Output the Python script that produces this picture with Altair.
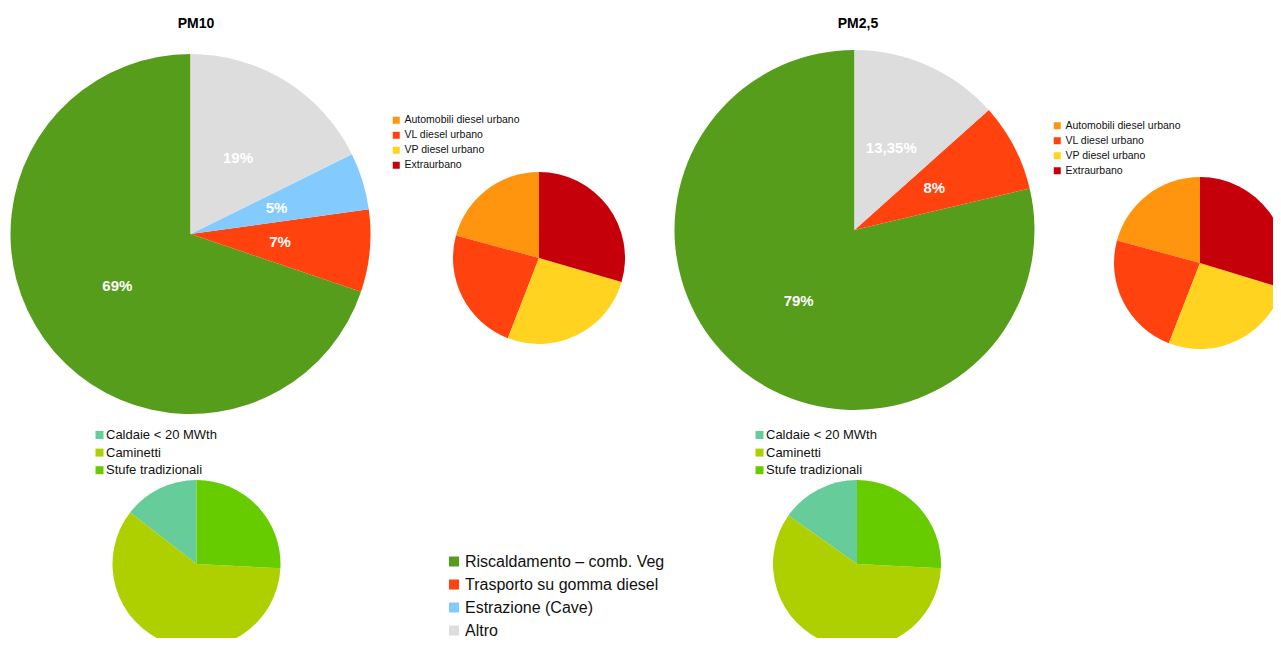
import altair as alt
import pandas as pd

FONT = "Liberation Sans"

titles = ["PM10", "PM2,5"]

# main categories (legend order)
main_cats = ["Riscaldamento – comb. Veg", "Trasporto su gomma diesel", "Estrazione (Cave)", "Altro"]
main_colors = ["#579d1c", "#ff420e", "#83caff", "#dddddd"]

pm10_cats = ["Riscaldamento – comb. Veg", "Trasporto su gomma diesel", "Estrazione (Cave)", "Altro"]
pm10_vals = [69.8, 7.4, 5.1, 17.7]
pm10_labels = ["69%", "7%", "5%", "19%"]

pm25_cats = ["Riscaldamento – comb. Veg", "Trasporto su gomma diesel", "Altro"]
pm25_vals = [78.7, 7.9, 13.4]
pm25_labels = ["79%", "8%", "13,35%"]

trasp_cats = ["Automobili diesel urbano", "VL diesel urbano", "VP diesel urbano", "Extraurbano"]
trasp_colors = ["#ff950e", "#ff420e", "#ffd320", "#c5000b"]
pm10_trasp_vals = [20.8, 23.3, 26.4, 29.5]
pm25_trasp_vals = [20.8, 23.3, 26.2, 29.7]

risc_cats = ["Caldaie < 20 MWth", "Caminetti", "Stufe tradizionali"]
risc_colors = ["#66cc99", "#aecf00", "#66cc00"]
pm10_risc_vals = [14.5, 59.7, 25.8]
pm25_risc_vals = [15.2, 59.0, 25.8]


def make_legend(lx, ly, fs, sym, off, rowpad):
    return alt.Legend(
        orient="none", legendX=lx, legendY=ly, title=None,
        symbolType="square", symbolSize=sym, symbolStrokeWidth=0,
        labelFont=FONT, labelFontSize=fs, labelColor="#111111",
        labelOffset=off, rowPadding=rowpad, padding=0, labelLimit=400,
    )


def pie(cats, vals, dom, rng, cx, cy, r, legend, labels=None, lr=None):
    df = pd.DataFrame({"cat": cats, "val": vals, "i": list(range(len(cats)))})
    if labels is not None:
        df["lab"] = labels
    base = alt.Chart(df)
    arc = base.mark_arc(outerRadius=r).encode(
        theta=alt.Theta("val:Q", stack=True),
        color=alt.Color("cat:N", scale=alt.Scale(domain=dom, range=rng),
                        legend=legend),
        order=alt.Order("i:Q", sort="descending"),
        x=alt.value(cx), y=alt.value(cy),
    )
    out = [arc]
    if labels is not None:
        txt = base.mark_text(radius=lr, font=FONT, fontSize=15,
                             fontWeight="bold", color="white").encode(
            theta=alt.Theta("val:Q", stack=True),
            text="lab:N",
            detail="cat:N",
            order=alt.Order("i:Q", sort="descending"),
            x=alt.value(cx), y=alt.value(cy),
        )
        out.append(txt)
    return out


layers = []
layers += pie(pm10_cats, pm10_vals, main_cats, main_colors, 182.5, 226, 180,
              make_legend(438, 545.5, 16, 100, 3, 7.0), pm10_labels, 90)
layers += pie(pm25_cats, pm25_vals, main_cats, main_colors, 846.5, 222, 180,
              None, pm25_labels, 90)
layers += pie(trasp_cats, pm10_trasp_vals, trasp_cats, trasp_colors, 531, 250, 86,
              make_legend(383, 107, 10.5, 49, 3, 4))
layers += pie(trasp_cats, pm25_trasp_vals, trasp_cats, trasp_colors, 1192, 255, 86,
              make_legend(1044, 112.5, 10.5, 49, 3, 4))
layers += pie(risc_cats, pm10_risc_vals, risc_cats, risc_colors, 188.5, 556, 84,
              make_legend(85, 420.5, 13, 64, 0, 3.6))
layers += pie(risc_cats, pm25_risc_vals, risc_cats, risc_colors, 849, 556, 84,
              make_legend(745, 420.5, 13, 64, 0, 3.6))

tdf = pd.DataFrame({"t": titles, "k": [0, 1]})
title_pos = [(188, 16), (850, 16)]
for k, (tx, ty) in enumerate(title_pos):
    layers.append(
        alt.Chart(tdf).transform_filter(alt.datum.k == k)
        .mark_text(font=FONT, fontSize=14, fontWeight="bold", color="#000000")
        .encode(text="t:N", x=alt.value(tx), y=alt.value(ty))
    )

chart = (
    alt.layer(*layers)
    .resolve_scale(theta="independent", color="independent")
    .properties(width=1265, height=630,
                autosize=alt.AutoSizeParams(type="none"), padding=0,
                background="white")
    .configure_view(stroke=None)
)

chart.save("out.html", embed_options={"renderer": "svg", "actions": False})
